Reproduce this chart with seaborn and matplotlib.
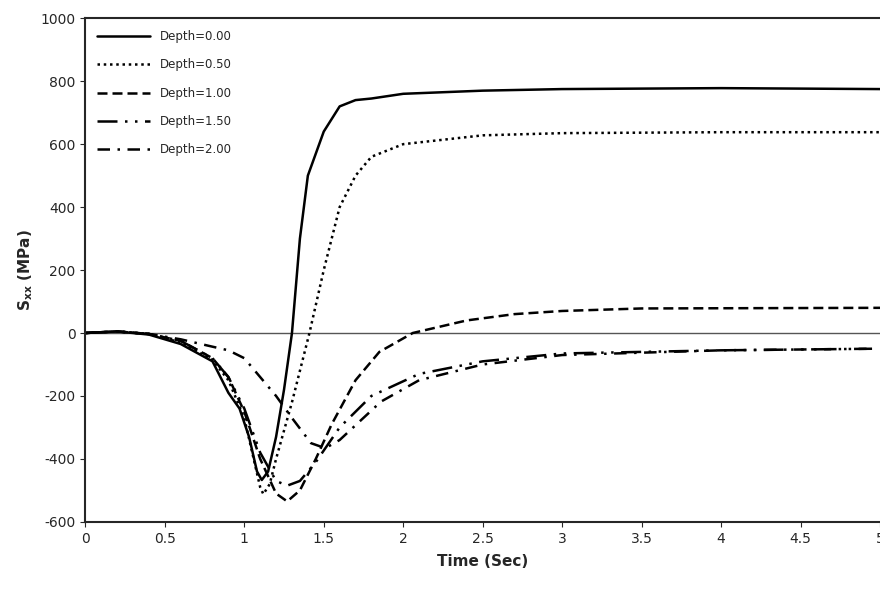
import matplotlib
matplotlib.use("Agg")
import matplotlib.pyplot as plt
import seaborn as sns
import pandas as pd

sns.set_style("ticks")
plt.rcParams['font.family'] = ['DejaVu Sans']
plt.rcParams['axes.unicode_minus'] = False

t0 = [0, 0.2, 0.4, 0.6, 0.8, 0.9, 0.97, 1.03, 1.08, 1.11, 1.15, 1.2, 1.25, 1.3, 1.35, 1.4, 1.5, 1.6, 1.7, 1.8, 2.0, 2.5, 3.0, 4.0, 5.0]
d0 = [0, 5, -5, -35, -90, -190, -240, -330, -440, -467, -440, -330, -180, 0, 300, 500, 640, 720, 740, 745, 760, 770, 775, 778, 775]
t05 = [0, 0.2, 0.4, 0.6, 0.8, 0.9, 1.0, 1.05, 1.1, 1.12, 1.16, 1.2, 1.3, 1.41, 1.5, 1.6, 1.7, 1.8, 2.0, 2.5, 3.0, 4.0, 5.0]
d05 = [0, 5, -3, -30, -85, -150, -270, -380, -490, -512, -480, -400, -220, 0, 200, 400, 500, 560, 600, 628, 635, 638, 638]
t1 = [0, 0.2, 0.4, 0.6, 0.8, 0.9, 1.0, 1.1, 1.2, 1.27, 1.35, 1.45, 1.55, 1.7, 1.85, 2.06, 2.4, 2.7, 3.0, 3.5, 5.0]
d1 = [0, 5, -3, -25, -80, -140, -250, -400, -510, -535, -500, -400, -290, -150, -60, 0, 40, 60, 70, 78, 80]
t15 = [0, 0.2, 0.4, 0.6, 0.8, 0.9, 1.0, 1.1, 1.2, 1.27, 1.35, 1.45, 1.6, 1.8, 2.1, 2.5, 3.0, 4.0, 4.95]
d15 = [0, 5, -3, -25, -80, -140, -240, -380, -470, -485, -470, -410, -300, -200, -130, -90, -65, -55, -50]
t2 = [0, 0.2, 0.4, 0.6, 0.77, 0.9, 1.0, 1.1, 1.2, 1.3, 1.42, 1.51, 1.6, 1.86, 2.1, 2.5, 3.0, 4.0, 4.95]
d2 = [0, 5, -3, -20, -40, -55, -80, -140, -200, -270, -350, -366, -340, -218, -150, -100, -70, -55, -50]

series = [("Depth=0.00", t0, d0, "-"),
          ("Depth=0.50", t05, d05, (0, (1, 1.5))),
          ("Depth=1.00", t1, d1, (0, (4, 2))),
          ("Depth=1.50", t15, d15, (0, (8, 3, 1, 3, 1, 3))),
          ("Depth=2.00", t2, d2, (0, (5, 3, 1, 3)))]

fig = plt.figure(figsize=(8.8, 5.89), dpi=100)
ax = fig.add_axes([0.097, 0.114, 0.903, 0.855])
ax.axhline(0, color="#555555", lw=1)
for name, t, d, ls in series:
    df = pd.DataFrame({"t": t, "v": d})
    sns.lineplot(data=df, x="t", y="v", ax=ax, color="black", lw=1.8, linestyle=ls, label=name)
ax.set_xlim(0, 5)
ax.set_ylim(-600, 1000)
ax.set_xticks([0, 0.5, 1, 1.5, 2, 2.5, 3, 3.5, 4, 4.5, 5])
ax.set_xticklabels(["0", "0.5", "1", "1.5", "2", "2.5", "3", "3.5", "4", "4.5", "5"])
ax.set_yticks(range(-600, 1001, 200))
ax.tick_params(labelsize=10)
ax.set_xlabel("Time (Sec)", fontweight="bold", fontsize=11, labelpad=6)
ax.set_ylabel(r"S$_{\mathbf{xx}}$ (MPa)", fontweight="bold", fontsize=11)
for s in ax.spines.values():
    s.set_linewidth(1.5)
ax.spines["right"].set_visible(False)
leg = ax.legend(loc="upper left", frameon=False, fontsize=8.5, handlelength=4.5, labelspacing=1.3, borderaxespad=0.6)
fig.savefig("out.png", dpi=100)
